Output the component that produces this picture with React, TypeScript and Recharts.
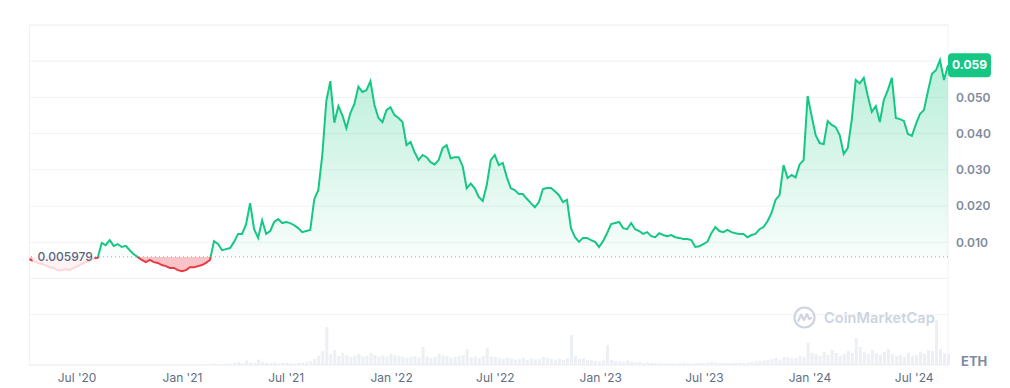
import { ComposedChart, Area, Bar, XAxis, YAxis, CartesianGrid, ReferenceLine, ReferenceArea } from 'recharts';

const startDate = Date.UTC(2020, 3, 9);
const WEEK = 7 * 24 * 3600 * 1000;

// weekly ETH-denominated price
const prices = [
  0.0053, 0.0048, 0.0043, 0.0040, 0.0037, 0.0031, 0.0029, 0.0023, 0.0023, 0.0026,
  0.0023, 0.0029, 0.0034, 0.0040, 0.0045, 0.0048, 0.0056, 0.0057, 0.0098, 0.0092,
  0.0106, 0.0090, 0.0095, 0.0087, 0.0090, 0.0078, 0.0067, 0.0059, 0.0051, 0.0045,
  0.0051, 0.0045, 0.0043, 0.0037, 0.0034, 0.0029, 0.0029, 0.0023, 0.0020, 0.0023,
  0.0031, 0.0031, 0.0034, 0.0037, 0.0043, 0.0051, 0.0103, 0.0095, 0.0078, 0.0081,
  0.0084, 0.0101, 0.0123, 0.0123, 0.0150, 0.0208, 0.0136, 0.0112, 0.0161, 0.0123,
  0.0131, 0.0156, 0.0164, 0.0153, 0.0156, 0.0153, 0.0147, 0.0139, 0.0128, 0.0131,
  0.0134, 0.0219, 0.0244, 0.0341, 0.0490, 0.0545, 0.0430, 0.0476, 0.0451, 0.0415,
  0.0457, 0.0482, 0.0530, 0.0515, 0.0520, 0.0545, 0.0479, 0.0443, 0.0432, 0.0465,
  0.0473, 0.0451, 0.0443, 0.0432, 0.0368, 0.0377, 0.0349, 0.0327, 0.0341, 0.0335,
  0.0321, 0.0315, 0.0327, 0.0360, 0.0368, 0.0332, 0.0335, 0.0335, 0.0310, 0.0249,
  0.0262, 0.0249, 0.0225, 0.0214, 0.0258, 0.0327, 0.0341, 0.0313, 0.0319, 0.0280,
  0.0249, 0.0244, 0.0233, 0.0233, 0.0220, 0.0208, 0.0197, 0.0211, 0.0247, 0.0250,
  0.0250, 0.0241, 0.0230, 0.0211, 0.0217, 0.0139, 0.0114, 0.0101, 0.0112, 0.0112,
  0.0106, 0.0101, 0.0087, 0.0103, 0.0125, 0.0150, 0.0153, 0.0156, 0.0139, 0.0136,
  0.0153, 0.0136, 0.0131, 0.0123, 0.0128, 0.0117, 0.0114, 0.0125, 0.0120, 0.0117,
  0.0120, 0.0114, 0.0112, 0.0109, 0.0109, 0.0106, 0.0087, 0.0089, 0.0095, 0.0101,
  0.0125, 0.0142, 0.0131, 0.0128, 0.0134, 0.0128, 0.0125, 0.0123, 0.0123, 0.0114,
  0.0120, 0.0123, 0.0136, 0.0142, 0.0158, 0.0181, 0.0217, 0.0230, 0.0313, 0.0277,
  0.0286, 0.0279, 0.0315, 0.0327, 0.0504, 0.0449, 0.0396, 0.0374, 0.0371, 0.0435,
  0.0424, 0.0418, 0.0396, 0.0344, 0.0360, 0.0438, 0.0548, 0.0539, 0.0554, 0.0504,
  0.0460, 0.0476, 0.0432, 0.0493, 0.0520, 0.0554, 0.0443, 0.0440, 0.0435, 0.0399,
  0.0394, 0.0426, 0.0454, 0.0465, 0.0517, 0.0565, 0.0575, 0.0603, 0.0548, 0.0589,
];

// weekly volume (relative units)
const volumes = [
  10, 5, 4, 3, 3, 2, 3, 2, 2, 3, 2, 2, 3, 3, 2, 2, 3, 4, 5, 4, 3, 3, 2, 2, 3,
  2, 2, 3, 2, 3, 3, 2, 3, 3, 4, 3, 8, 4, 5, 4, 6, 5, 4, 5, 8, 6,
  12, 10, 8, 15, 12, 20, 30, 18, 45, 25, 20, 55, 30, 22, 18, 25, 15, 20, 22, 18, 16, 20, 25, 30, 35,
  60, 90, 140, 380, 110, 150, 90, 120, 100, 80, 95, 110, 85, 90, 120, 100, 80, 95, 85, 110, 100, 90, 80,
  70, 80, 90, 75, 180, 85, 70, 80, 110, 95, 90, 70, 80, 90, 100, 160, 80, 85, 70, 90, 170, 85,
  80, 70, 60, 75, 65, 55, 60, 70, 50, 65, 55, 60, 80, 70, 60, 55, 65, 50, 70, 300, 90, 60, 70, 50, 45,
  40, 35, 45, 200, 50, 40, 35, 30, 45, 30, 25, 30, 20, 25, 20, 18, 22, 15, 20, 18, 15, 20, 25, 18, 15,
  20, 22, 18, 25, 30,
  25, 20, 22, 18, 20, 25, 22, 20, 25, 30, 35, 40, 45, 50, 60, 70, 55, 80, 75, 65, 70, 90, 85, 220, 120,
  110, 90, 130, 100, 150, 120, 90, 110, 140, 120, 270, 180, 130, 110, 150, 120, 100, 130, 160, 110,
  90, 100, 80, 120, 90, 100, 130, 110, 150, 140, 450, 160, 120, 110,
];

const baseline = 0.005979;
const lastPrice = prices[prices.length - 1];

const xTickDates = [
  Date.UTC(2020, 6, 1), Date.UTC(2021, 0, 1), Date.UTC(2021, 6, 1), Date.UTC(2022, 0, 1),
  Date.UTC(2022, 6, 1), Date.UTC(2023, 0, 1), Date.UTC(2023, 6, 1), Date.UTC(2024, 0, 1),
  Date.UTC(2024, 6, 1),
];
const xTickLabels = ["Jul '20", "Jan '21", "Jul '21", "Jan '22", "Jul '22", "Jan '23", "Jul '23", "Jan '24", "Jul '24"];

const priceTicks = [-0.01, 0, 0.01, 0.02, 0.03, 0.04, 0.05, 0.06, 0.07];
const priceDomain = [-0.0239, 0.07];

const data = prices.map((p, i) => ({ t: startDate + i * WEEK, price: p, volume: volumes[i] }));

const maxP = Math.max(...prices);
const minP = Math.min(...prices, baseline);
const splitOff = (maxP - baseline) / (maxP - minP);

const GREEN = '#16c784';
const RED = '#ea3943';

function BaseLabel(props: any) {
  const { viewBox } = props;
  const x = viewBox.x;
  const y = viewBox.y;
  return (
    <g>
      <rect x={x + 3} y={y - 10} width={62} height={28} fill="#ffffff" fillOpacity={0.8} />
      <text x={x + 8} y={y} dy="0.35em" fontSize={12} fontWeight={500} fill="#58667e" fontFamily="Inter">
        {baseline.toString()}
      </text>
    </g>
  );
}

function PriceBadge(props: any) {
  const { viewBox } = props;
  const x = viewBox.x + viewBox.width;
  const y = viewBox.y;
  return (
    <g>
      <rect x={x} y={y - 12} width={43} height={24} rx={4} fill={GREEN} />
      <text x={x + 21.5} y={y} dy="0.35em" textAnchor="middle" fontSize={12} fontWeight={700} fill="#ffffff" fontFamily="Inter">
        {lastPrice.toFixed(3)}
      </text>
    </g>
  );
}

export default function App() {
  return (
    <div style={{ position: 'absolute', left: 0, top: 0, width: 1010, height: 388, fontFamily: 'Inter', background: '#fff' }}>
      <ComposedChart width={1010} height={388} data={data} margin={{ top: 25, right: 0, bottom: 0, left: 29.5 }}>
        <defs>
          <linearGradient id="priceStroke" x1="0" y1="0" x2="0" y2="1">
            <stop offset={0} stopColor={GREEN} />
            <stop offset={splitOff} stopColor={GREEN} />
            <stop offset={splitOff} stopColor={RED} />
            <stop offset={1} stopColor={RED} />
          </linearGradient>
          <linearGradient id="priceFill" x1="0" y1="0" x2="0" y2="1">
            <stop offset={0} stopColor={GREEN} stopOpacity={0.3} />
            <stop offset={splitOff} stopColor={GREEN} stopOpacity={0.03} />
            <stop offset={splitOff} stopColor={RED} stopOpacity={0.3} />
            <stop offset={1} stopColor={RED} stopOpacity={0.3} />
          </linearGradient>
        </defs>
        <CartesianGrid vertical={false} stroke="#eff2f5" yAxisId="price" />
        <XAxis
          dataKey="t"
          type="number"
          domain={[data[0].t, data[data.length - 1].t]}
          ticks={xTickDates}
          tickFormatter={(v: number) => xTickLabels[xTickDates.indexOf(v)] ?? ''}
          axisLine={false}
          tickLine={false}
          height={23}
          tick={{ fontSize: 12, fill: '#616e85', fontFamily: 'Inter' }}
        />
        <YAxis
          yAxisId="price"
          orientation="right"
          domain={priceDomain}
          ticks={priceTicks}
          width={62}
          axisLine={false}
          tickLine={false}
          tick={{ fontSize: 12, fill: '#808a9d', fontFamily: 'Inter', fontWeight: 600 }}
          tickFormatter={(v: number) => (v > 0.005 && v < 0.055 ? v.toFixed(3) : '')}
        />
        <YAxis yAxisId="vol" hide domain={[0, 3400]} />
        <ReferenceArea
          yAxisId="price"
          x1={data[0].t}
          x2={data[data.length - 1].t}
          y1={priceDomain[0]}
          y2={priceDomain[1]}
          fill="none"
          stroke="#eff2f5"
        />
        <Bar yAxisId="vol" dataKey="volume" fill="#eceff3" barSize={3} isAnimationActive={false} />
        <Area
          yAxisId="price"
          type="linear"
          dataKey="price"
          baseValue={baseline}
          stroke="url(#priceStroke)"
          strokeWidth={2}
          fill="url(#priceFill)"
          fillOpacity={1}
          dot={false}
          activeDot={false}
          isAnimationActive={false}
        />
        <ReferenceLine yAxisId="price" y={baseline} stroke="#a1a7bb" strokeDasharray="1 3" label={<BaseLabel />} />
        <ReferenceLine yAxisId="price" y={lastPrice} stroke="none" label={<PriceBadge />} />
      </ComposedChart>
      <div style={{ position: 'absolute', left: 793, top: 306, display: 'flex', alignItems: 'center', gap: 8, color: '#cdd4df' }}>
        <svg width={23} height={23} viewBox="0 0 24 24">
          <circle cx={12} cy={12} r={10.5} fill="none" stroke="#cdd4df" strokeWidth={2.2} />
          <path d="M5.5 15.5 L8.5 9 L11.5 14.5 L14.5 8.5 L17 13.5 L19 12.5" fill="none" stroke="#cdd4df" strokeWidth={2.2} strokeLinejoin="round" strokeLinecap="round" />
        </svg>
        <span style={{ fontSize: 14.5, fontWeight: 600, letterSpacing: 0.1 }}>CoinMarketCap</span>
      </div>
      <div style={{ position: 'absolute', left: 961, top: 353, fontSize: 13, fontWeight: 700, color: '#808a9d' }}>ETH</div>
    </div>
  );
}
